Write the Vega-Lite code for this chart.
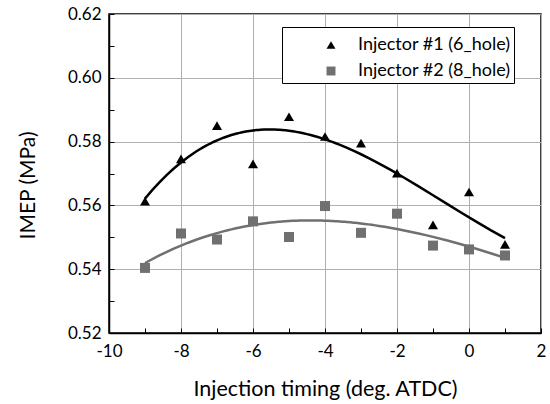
{
  "$schema": "https://vega.github.io/schema/vega-lite/v6.json",
  "width": 432,
  "height": 319,
  "autosize": {"type": "none"},
  "padding": {"left": 109, "top": 14, "right": 9, "bottom": 71},
  "background": "white",
  "config": {
    "font": "Lato",
    "view": {"stroke": "black", "strokeWidth": 1.5}
  },
  "data": {
    "values": [
      {"timing": -9, "imep": 0.5613, "injector": "Injector #1 (6_hole)"},
      {"timing": -8, "imep": 0.5746, "injector": "Injector #1 (6_hole)"},
      {"timing": -7, "imep": 0.5850, "injector": "Injector #1 (6_hole)"},
      {"timing": -6, "imep": 0.5730, "injector": "Injector #1 (6_hole)"},
      {"timing": -5, "imep": 0.5878, "injector": "Injector #1 (6_hole)"},
      {"timing": -4, "imep": 0.5816, "injector": "Injector #1 (6_hole)"},
      {"timing": -3, "imep": 0.5795, "injector": "Injector #1 (6_hole)"},
      {"timing": -2, "imep": 0.5701, "injector": "Injector #1 (6_hole)"},
      {"timing": -1, "imep": 0.5539, "injector": "Injector #1 (6_hole)"},
      {"timing": 0, "imep": 0.5642, "injector": "Injector #1 (6_hole)"},
      {"timing": 1, "imep": 0.5478, "injector": "Injector #1 (6_hole)"},
      {"timing": -9, "imep": 0.5404, "injector": "Injector #2 (8_hole)"},
      {"timing": -8, "imep": 0.5512, "injector": "Injector #2 (8_hole)"},
      {"timing": -7, "imep": 0.5493, "injector": "Injector #2 (8_hole)"},
      {"timing": -6, "imep": 0.5550, "injector": "Injector #2 (8_hole)"},
      {"timing": -5, "imep": 0.5501, "injector": "Injector #2 (8_hole)"},
      {"timing": -4, "imep": 0.5598, "injector": "Injector #2 (8_hole)"},
      {"timing": -3, "imep": 0.5514, "injector": "Injector #2 (8_hole)"},
      {"timing": -2, "imep": 0.5574, "injector": "Injector #2 (8_hole)"},
      {"timing": -1, "imep": 0.5474, "injector": "Injector #2 (8_hole)"},
      {"timing": 0, "imep": 0.5462, "injector": "Injector #2 (8_hole)"},
      {"timing": 1, "imep": 0.5443, "injector": "Injector #2 (8_hole)"}
    ]
  },
  "encoding": {
    "x": {
      "field": "timing",
      "type": "quantitative",
      "scale": {"domain": [-10, 2], "nice": false, "zero": false},
      "axis": {
        "values": [-10, -9, -8, -7, -6, -5, -4, -3, -2, -1, 0, 1, 2],
        "title": "Injection timing (deg. ATDC)",
        "grid": true,
        "gridColor": "#b0b0b0",
        "gridWidth": 1,
        "gridOpacity": {"condition": {"test": "datum.value % 2 !== 0", "value": 0}, "value": 1},
        "labelExpr": "datum.value % 2 === 0 ? '' + datum.value : ''",
        "tickSize": -5,
        "tickColor": "black",
        "tickWidth": 1,
        "domainColor": "black",
        "domainWidth": 1.5,
        "labelFont": "Lato",
        "labelFontSize": 17,
        "labelColor": "black",
        "labelPadding": 15,
        "labelFlush": false,
        "titleFont": "Lato",
        "titleFontSize": 21.5,
        "titleFontWeight": "normal",
        "titleColor": "black",
        "titlePadding": 19
      }
    },
    "y": {
      "field": "imep",
      "type": "quantitative",
      "scale": {"domain": [0.52, 0.62], "nice": false, "zero": false},
      "axis": {
        "values": [0.52, 0.53, 0.54, 0.55, 0.56, 0.57, 0.58, 0.59, 0.60, 0.61, 0.62],
        "title": "IMEP (MPa)",
        "format": ".2f",
        "grid": true,
        "gridColor": "#b0b0b0",
        "gridWidth": 1,
        "gridOpacity": {"condition": {"test": "round(datum.value * 100) % 2 !== 0", "value": 0}, "value": 1},
        "labelExpr": "round(datum.value * 100) % 2 === 0 ? datum.label : ''",
        "tickSize": -5,
        "tickColor": "black",
        "tickWidth": 1,
        "domainColor": "black",
        "domainWidth": 1.5,
        "labelFont": "Lato",
        "labelFontSize": 17,
        "labelColor": "black",
        "labelPadding": 13,
        "labelFlush": false,
        "titleFont": "Lato",
        "titleFontSize": 21,
        "titleFontWeight": "normal",
        "titleColor": "black",
        "titlePadding": 29,
        "titleY": 171
      }
    }
  },
  "layer": [
    {
      "transform": [
        {"filter": "datum.injector === 'Injector #1 (6_hole)'"},
        {"regression": "imep", "on": "timing", "method": "poly", "order": 3}
      ],
      "mark": {"type": "line", "color": "black", "strokeWidth": 2.5}
    },
    {
      "transform": [
        {"filter": "datum.injector === 'Injector #2 (8_hole)'"},
        {"regression": "imep", "on": "timing", "method": "poly", "order": 3}
      ],
      "mark": {"type": "line", "color": "#707070", "strokeWidth": 2.5}
    },
    {
      "mark": {"type": "point", "filled": true, "opacity": 1, "strokeWidth": 0, "size": 100},
      "encoding": {
        "shape": {
          "field": "injector",
          "type": "nominal",
          "scale": {"domain": ["Injector #1 (6_hole)", "Injector #2 (8_hole)"], "range": ["triangle-up", "square"]},
          "legend": {
            "title": "\u00a0",
            "titleFontSize": 6,
            "titlePadding": 0,
            "orient": "none",
            "legendX": 173,
            "legendY": 13,
            "strokeColor": "black",
            "fillColor": "white",
            "padding": 3,
            "symbolOffset": 37,
            "labelOffset": 18,
            "labelFont": "Lato",
            "labelFontSize": 18,
            "labelColor": "black",
            "labelExpr": "datum.label + '\u00a0\u00a0\u00a0\u00a0\u00a0'",
            "rowPadding": 8,
            "symbolSize": 80,
            "symbolStrokeWidth": 0
          }
        },
        "color": {
          "field": "injector",
          "type": "nominal",
          "scale": {"domain": ["Injector #1 (6_hole)", "Injector #2 (8_hole)"], "range": ["black", "#707070"]}
        }
      }
    }
  ]
}
